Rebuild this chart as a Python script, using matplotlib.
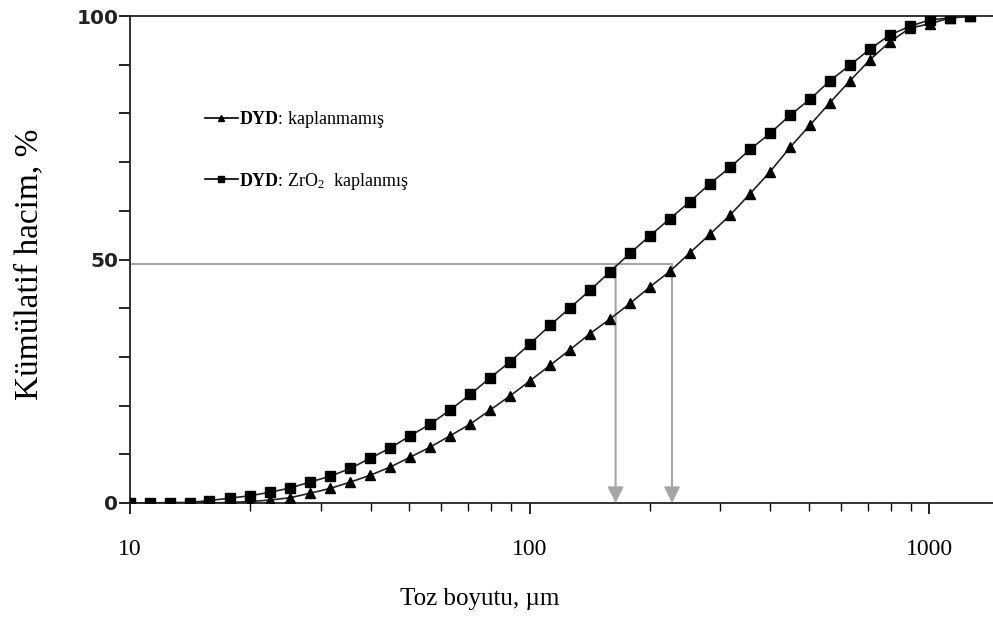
import numpy as np
import matplotlib
matplotlib.use('Agg')
import matplotlib.pyplot as plt
from matplotlib.lines import Line2D

#Particle size classes (um) and cumulative volume (%)
sizes = [10.0, 11.2, 12.6, 14.1, 15.8, 17.8, 20.0, 22.4, 25.2, 28.2,
         31.7, 35.6, 39.9, 44.8, 50.2, 56.4, 63.2, 71.0, 79.6, 89.3,
         100.2, 112.5, 126.2, 141.6, 158.9, 178.3, 200.0, 224.4, 251.8, 282.5,
         317.0, 355.7, 399.1, 447.7, 502.4, 563.7, 632.5, 709.6, 796.2, 893.4,
         1002.4, 1124.7, 1261.9]
uncoated = [0, 0, 0, 0, 0, 0.1, 0.3, 0.6, 1.1, 2.0,
            3.0, 4.3, 5.7, 7.4, 9.4, 11.5, 13.8, 16.2, 19.1, 22.0,
            25.1, 28.3, 31.5, 34.8, 37.8, 41.0, 44.4, 47.6, 51.4, 55.2,
            59.1, 63.5, 68.0, 73.0, 77.6, 82.2, 86.7, 91.0, 94.7, 97.5,
            98.4, 99.6, 100.0]
coated = [0, 0, 0.1, 0.1, 0.5, 1.0, 1.5, 2.2, 3.1, 4.3,
          5.5, 7.1, 9.2, 11.3, 13.8, 16.2, 19.1, 22.3, 25.7, 29.0,
          32.7, 36.5, 40.1, 43.7, 47.5, 51.3, 54.9, 58.4, 61.9, 65.6,
          68.9, 72.6, 75.9, 79.6, 82.9, 86.7, 89.9, 93.2, 96.1, 97.9,
          99.2, 99.6, 99.9]
labels = [r'$\mathbf{DYD}$: kaplanmamış', r'$\mathbf{DYD}$: ZrO$_2$  kaplanmış']
d50_level = 49
d50_values = [164, 227]
xticks = [10, 100, 1000]
yticks = [0, 50, 100]

plt.rcParams['mathtext.fontset'] = 'custom'
plt.rcParams['mathtext.rm'] = 'Liberation Serif'
plt.rcParams['mathtext.bf'] = 'Liberation Serif:bold'
plt.rcParams['mathtext.it'] = 'Liberation Serif:italic'

fig = plt.figure(figsize=(9.93, 6.3), dpi=100)
ax = fig.add_axes([130/993, 127/630, 863/993, 487/630])

gray = '#a6a6a6'
#d50 guide lines
ax.plot([10, max(d50_values)], [d50_level, d50_level], color=gray, lw=1.5, zorder=1)
for d in d50_values:
    ax.annotate('', xy=(d, 0), xytext=(d, d50_level),
                arrowprops=dict(arrowstyle='-|>', color=gray, lw=1.5,
                                mutation_scale=24, shrinkA=0, shrinkB=0),
                zorder=1)

ax.plot(sizes, uncoated, color='#222222', lw=1.2, marker='^', ms=6.5,
        mfc='black', mec='black', zorder=3)
ax.plot(sizes, coated, color='#222222', lw=1.2, marker='s', ms=7,
        mfc='black', mec='black', zorder=3)

ax.set_xscale('log')
ax.set_xlim(10, 1442)
ax.set_ylim(0, 100)

ax.spines['right'].set_visible(False)
for s in ['left', 'bottom', 'top']:
    ax.spines[s].set_linewidth(1.3)
    ax.spines[s].set_color('#222222')

ax.set_xticks(xticks)
ax.set_xticklabels([str(t) for t in xticks], fontfamily='Liberation Serif', fontsize=17)
ax.tick_params(axis='x', which='major', direction='out', length=8, width=1.2, pad=18)
ax.tick_params(axis='x', which='minor', direction='out', length=6, width=1.0)
ax.set_yticks(yticks)
ax.set_yticks(np.arange(0, 101, 10), minor=True)
ax.set_yticklabels([str(t) for t in yticks], fontfamily='DejaVu Sans',
                   fontweight='bold', fontsize=14.5, color='#222222')
ax.tick_params(axis='y', which='both', direction='out', length=8, width=1.2, pad=0.5)

ax.set_xlabel('Toz boyutu, µm', fontfamily='Liberation Serif', fontsize=18)
ax.xaxis.set_label_coords(0.405, -0.175)
ax.set_ylabel('Kümülatif hacim, %', fontfamily='Liberation Serif', fontsize=24)
ax.yaxis.set_label_coords(-0.099, 0.49)

handles = [Line2D([], [], color='black', lw=1.2, marker='^', ms=4.5),
           Line2D([], [], color='black', lw=1.2, marker='s', ms=5)]
ax.legend(handles, labels, loc='upper left', bbox_to_anchor=(0.087, 0.809),
          frameon=False, prop={'family': 'Liberation Serif', 'size': 13},
          handlelength=1.8, handletextpad=0.1, labelspacing=2.25,
          borderpad=0, borderaxespad=0)

fig.savefig('out.png', dpi=100)
